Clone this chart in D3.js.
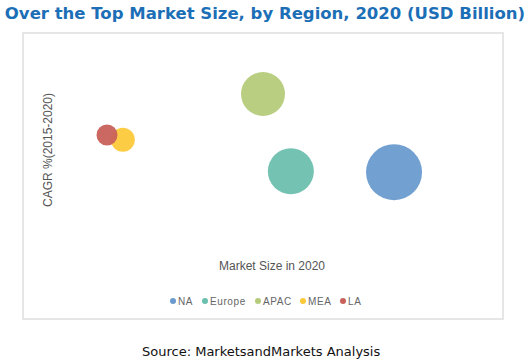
<!DOCTYPE html>
<html><head><meta charset="utf-8">
<script src="https://cdn.jsdelivr.net/npm/d3@7"></script>
<style>body{margin:0;background:#fff;}svg{display:block;}</style>
</head><body>
<script>
const regions = ["NA", "Europe", "APAC", "MEA", "LA"];
const marketSize = [77.3, 55.8, 50.0, 20.8, 17.5];
const cagr = [15.4, 15.5, 23.6, 18.8, 19.3];
const bubbleSize = [784, 529, 484, 144, 110];
const colors = ["#6a9bcf", "#6bbfae", "#b5cb7a", "#fcc93a", "#c9605a"];

const W = 531, H = 364;
const svg = d3.select("body").append("svg").attr("width", W).attr("height", H);

const frame = {x0: 23, y0: 33, x1: 503, y1: 319};
svg.append("rect").attr("x", frame.x0).attr("y", frame.y0)
  .attr("width", frame.x1 - frame.x0).attr("height", frame.y1 - frame.y0)
  .attr("fill", "#fff").attr("stroke", "#e6e6e6").attr("stroke-width", 2);

const x = d3.scaleLinear().domain([0, 100]).range([frame.x0, frame.x1]);
const y = d3.scaleLinear().domain([0, 30]).range([frame.y1, frame.y0]);
const r = d3.scaleSqrt().domain([0, d3.max(bubbleSize)]).range([0, 28]);

svg.append("text").attr("x", 265).attr("y", 19).attr("text-anchor", "middle")
  .attr("font-family", "DejaVu Sans").attr("font-weight", "bold").attr("font-size", 16.5)
  .attr("fill", "#1c6fb6").text("Over the Top Market Size, by Region, 2020 (USD Billion)");

const data = regions.map((d, i) => ({name: d, x: marketSize[i], y: cagr[i], s: bubbleSize[i], c: colors[i]}));

svg.append("g").selectAll("circle").data(data).join("circle")
  .attr("cx", d => x(d.x)).attr("cy", d => y(d.y)).attr("r", d => r(d.s))
  .attr("fill", d => d.c).attr("fill-opacity", 0.95);

svg.append("text").attr("x", 272).attr("y", 270).attr("text-anchor", "middle")
  .attr("font-family", "Liberation Sans, Arial").attr("font-size", 12).attr("fill", "#555")
  .text("Market Size in 2020");

svg.append("text").attr("transform", "translate(52,150) rotate(-90)").attr("text-anchor", "middle")
  .attr("font-family", "Liberation Sans, Arial").attr("font-size", 12).attr("fill", "#555")
  .text("CAGR %(2015-2020)");

const legendX = [173, 205, 258, 303, 343];
const lg = svg.append("g").selectAll("g").data(data).join("g")
  .attr("transform", (d, i) => `translate(${legendX[i]},301)`);
lg.append("circle").attr("r", 3).attr("fill", d => d.c);
lg.append("text").attr("x", 5).attr("y", 3.5)
  .attr("font-family", "Liberation Sans, Arial").attr("font-size", 10).attr("letter-spacing", 0.6)
  .attr("fill", "#666").text(d => d.name);

svg.append("text").attr("x", 142).attr("y", 356)
  .attr("font-family", "DejaVu Sans").attr("font-size", 13).attr("fill", "#111")
  .text("Source: MarketsandMarkets Analysis");
</script>
</body></html>
